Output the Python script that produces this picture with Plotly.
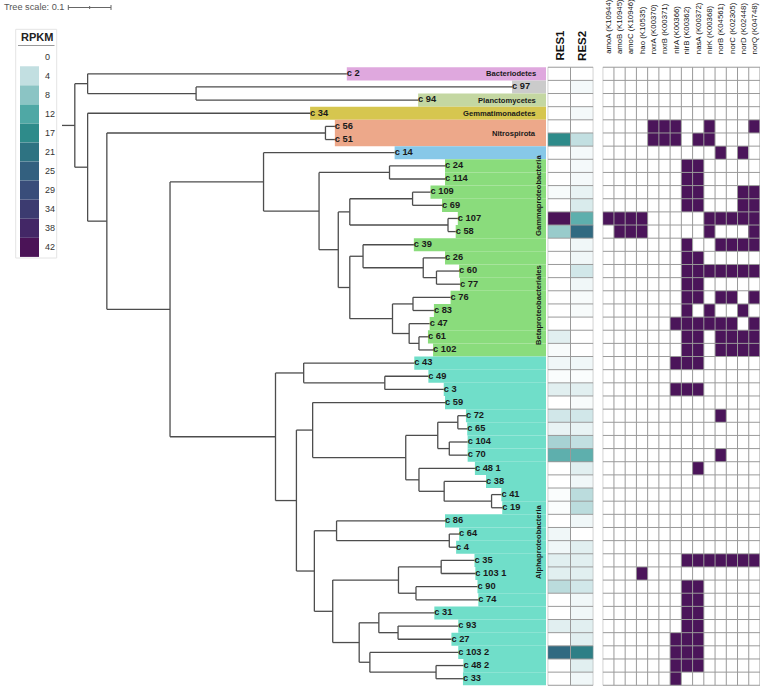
import plotly.graph_objects as go

# ---- data -------------------------------------------------------------
GAMMA_BETA = ("((c 24:0.130,c 114:0.130):0.165,"
              "(((c 109:0.042,c 69:0.069):0.147,(c 107:0.023,c 58:0.018):0.230):0.027,"
              "((c 39:0.119,(c 26:0.051,(c 60:0.053,c 77:0.055):0.031):0.141):0.031,"
              "((c 76:0.088,c 83:0.049):0.048,(c 47:0.048,(c 61:0.021,c 102:0.033):0.023):0.039):0.100"
              "):0.027):0.045)")
ALPHA = ("((c 43:0.259,(c 49:0.102,c 3:0.138):0.190):0.066,"
         "((c 59:0.310,(((c 72:0.019,c 65:0.022):0.047,(c 104:0.043,c 70:0.043):0.027):0.075,"
         "(c 48 1:0.131,(c 38:0.098,(c 41:0.023,c 19:0.025):0.111):0.059):0.031):0.218):0.038,"
         "((c 86:0.254,(c 64:0.023,c 4:0.016):0.264):0.052,"
         "(((c 35:0.078,c 103 1:0.080):0.100,(c 90:0.144,c 74:0.146):0.041):0.154,"
         "((c 31:0.130,(c 93:0.141,c 27:0.125):0.045):0.046,"
         "(c 103 2:0.207,(c 48 2:0.064,c 33:0.063):0.155):0.025):0.062):0.043):0.042):0.049)")
TREE = ("((c 2:0.607,(c 97:0.740,c 94:0.520):0.254):0.030,"
        "(c 34:0.521,((c 56:0.022,c 51:0.022):0.512,"
        "((c 14:0.307," + GAMMA_BETA + ":0.130):0.219," + ALPHA + ":0.247):0.148):0.045):0.030):0.030;")

CLADE_OF = {
    "c 2": "Bacteriodetes", "c 97": "other1", "c 94": "Planctomycetes",
    "c 34": "Gemmatimonadetes", "c 56": "Nitrospirota", "c 51": "Nitrospirota",
    "c 14": "other2",
}
GAMMA_LEAVES = ["c 24", "c 114", "c 109", "c 69", "c 107", "c 58"]
BETA_LEAVES = ["c 39", "c 26", "c 60", "c 77", "c 76", "c 83", "c 47", "c 61", "c 102"]
CLADE_COLORS = {
    "Bacteriodetes": "#dfa8de", "other1": "#cbcbcb", "Planctomycetes": "#c4d7a2",
    "Gemmatimonadetes": "#d6c64f", "Nitrospirota": "#eda88a", "other2": "#87c8e8",
    "Gammaproteobacteria": "#8adc7c", "Betaproteobacteriales": "#8adc7c",
    "Alphaproteobacteria": "#70dec9",
}

RES_NAMES = ["RES1", "RES2"]
RES1 = [0, 0, 0, 0, 0, 17, 0, 0, 0, 0.5, 0, 42, 7, 0, 0, 0, 0, 0, 0, 0, 2, 0.5, 1, 0.3,
        2, 0, 3, 1.5, 6, 11, 0, 0, 0.3, 0.3, 0, 1, 1, 2, 2, 4.5, 0, 0, 2, 0, 23, 0, 0]
RES2 = [0, 0.7, 0, 0.7, 0, 4, 0.7, 0.7, 0.7, 1.5, 2.5, 11, 23, 1, 1, 3, 1, 0.5, 0.5, 0, 0, 0, 1, 0.3,
        2, 0.5, 3, 1.5, 4, 11, 2, 1, 4.5, 4.5, 1, 0, 2, 2, 2, 3, 1, 1, 2, 2, 19, 2, 1]

GENES = ["amoA (K10944)", "amoB (K10945)", "amoC (K10946)", "hao (K10535)",
         "nxrA (K00370)", "nxrB (K00371)", "nirA (K00366)", "nirB (K00362)",
         "nasA (K00372)", "nirK (K00368)", "norB (K04561)", "norC (K02305)",
         "norD (K02448)", "norQ (K04748)"]
GENE_ROWS = [
    "00000000000000", "00000000000000", "00000000000000", "00000000000000",
    "00001110010001", "00001110110000", "00000000001010", "00000001100000",
    "00000001100000", "00000001100011", "00000001100011", "11110000011111",
    "01110000010001", "00000001001111", "00000001100000", "00000001111111",
    "00000001100000", "00000001101101", "00000001010010", "00000011111101",
    "00000001101111", "00000001101111", "00000011100000", "00000000000000",
    "00000011100000", "00000000000000", "00000000001000", "00000000000000",
    "00000000000000", "00000000001000", "00000000100000", "00000000000000",
    "00000000000000", "00000000000000", "00000000000000", "00000000000000",
    "00000000000000", "00000001111111", "00010000000000", "00000001100000",
    "00000001100000", "00000001100000", "00000001100000", "00000011100000",
    "00000011100000", "00000011100000", "00000010000000",
]

LEGEND_VALUES = [0, 4, 8, 12, 17, 21, 25, 29, 34, 38, 42]
LEGEND_COLORS = ["#ffffff", "#c2dfe1", "#8bc4c4", "#4fa8a5", "#2e8b8a", "#2e7382",
                 "#33607f", "#394d7a", "#3c3b70", "#432766", "#4b1357"]

# ---- layout constants (pixels) ----------------------------------------
W, H = 760, 687
ROW0, ROWH = 73.8, 13.15
PX_PER_UNIT, ROOT_PX = 427.0, 62.0
TREE_RIGHT = 546


def row_at(p):
    return (p - ROW0) / ROWH


def px_x(p):
    return p / W


def px_y(p):
    return 1 - p / H


# ---- parse newick -----------------------------------------------------
def parse(s, i=0):
    node = {"children": [], "name": "", "bl": 0.0}
    if s[i] == "(":
        i += 1
        while True:
            child, i = parse(s, i)
            node["children"].append(child)
            if s[i] == ",":
                i += 1
                continue
            i += 1
            break
    j = i
    while s[i] not in ":,();":
        i += 1
    node["name"] = s[j:i].strip()
    if s[i] == ":":
        i += 1
        j = i
        while s[i] not in ",();":
            i += 1
        node["bl"] = float(s[j:i])
    return node, i


root, _ = parse(TREE)
leaves = []


def place(node, depth):
    node["x"] = depth + node["bl"]
    if not node["children"]:
        node["y"] = len(leaves)
        leaves.append(node)
    else:
        for c in node["children"]:
            place(c, node["x"])
        node["y"] = (node["children"][0]["y"] + node["children"][-1]["y"]) / 2


place(root, 0.0)

lx, ly = [0, root["x"], None], [root["y"], root["y"], None]


def edges(node):
    for c in node["children"]:
        lx.extend([node["x"], c["x"], None])
        ly.extend([c["y"], c["y"], None])
        edges(c)
    if node["children"]:
        lx.extend([node["x"], node["x"], None])
        ly.extend([node["children"][0]["y"], node["children"][-1]["y"], None])


edges(root)

x_lo = -ROOT_PX / PX_PER_UNIT
x_hi = (TREE_RIGHT - ROOT_PX) / PX_PER_UNIT

fig = go.Figure()
shapes = []
names = [lf["name"] for lf in leaves]


def clade(name):
    if name in CLADE_OF:
        return CLADE_OF[name]
    if name in GAMMA_LEAVES:
        return "Gammaproteobacteria"
    if name in BETA_LEAVES:
        return "Betaproteobacteriales"
    return "Alphaproteobacteria"


for lf in leaves:
    shapes.append(dict(type="rect", xref="x", yref="y", x0=lf["x"], x1=x_hi,
                       y0=lf["y"] - 0.5, y1=lf["y"] + 0.5, layer="below",
                       fillcolor=CLADE_COLORS[clade(lf["name"])], line=dict(width=0)))

fig.add_trace(go.Scatter(x=lx, y=ly, mode="lines", line=dict(color="#4d4d4d", width=1.3),
                         hoverinfo="skip", showlegend=False))
fig.add_trace(go.Scatter(x=[lf["x"] for lf in leaves], y=[lf["y"] for lf in leaves],
                         mode="text", text=["<b>%s</b>" % n for n in names],
                         textposition="middle right",
                         textfont=dict(family="Arial", size=9.3, color="#1a1a1a"),
                         hoverinfo="skip", showlegend=False))

# RES heatmap
scale = [[v / 42, c] for v, c in zip(LEGEND_VALUES, LEGEND_COLORS)]
rows = list(range(len(leaves)))
fig.add_trace(go.Heatmap(z=[[a, b] for a, b in zip(RES1, RES2)], x=[0, 1], y=rows,
                         colorscale=scale, zmin=0, zmax=42, showscale=False,
                         xaxis="x2", yaxis="y", hoverinfo="skip"))
# gene heatmap
gz = [[int(ch) for ch in r] for r in GENE_ROWS]
fig.add_trace(go.Heatmap(z=gz, x=list(range(len(GENES))), y=rows,
                         colorscale=[[0, "#ffffff"], [1, "#4b155a"]], zmin=0, zmax=1,
                         showscale=False, xaxis="x3", yaxis="y", hoverinfo="skip"))

# grid lines
for ax, ncol in (("x2", 2), ("x3", len(GENES))):
    gx, gy = [], []
    for k in range(ncol + 1):
        gx.extend([k - 0.5, k - 0.5, None])
        gy.extend([-0.5, len(leaves) - 0.5, None])
    for r in range(len(leaves) + 1):
        gx.extend([-0.5, ncol - 0.5, None])
        gy.extend([r - 0.5, r - 0.5, None])
    fig.add_trace(go.Scatter(x=gx, y=gy, mode="lines", line=dict(color="#9a9a9a", width=1),
                             xaxis=ax, yaxis="y", hoverinfo="skip", showlegend=False))

ann = []
# clade labels
row_of = {n: i for i, n in enumerate(names)}
lab_x = (538 - ROOT_PX) / PX_PER_UNIT
for text, yy in (("Bacteriodetes", row_of["c 2"]), ("Planctomycetes", row_of["c 94"]),
                 ("Gemmatimonadetes", row_of["c 34"]),
                 ("Nitrospirota", (row_of["c 56"] + row_of["c 51"]) / 2 + 0.05)):
    ann.append(dict(x=lab_x, y=yy, xref="x", yref="y", text="<b>%s</b>" % text,
                    showarrow=False, xanchor="right", yanchor="middle",
                    font=dict(family="Arial", size=7.6, color="#1a1a1a")))
for text, py in (("Gammaproteobacteria", 196), ("Betaproteobacteriales", 305),
                 ("Alphaproteobacteria", 542)):
    ann.append(dict(x=lab_x, y=row_at(py), xref="x", yref="y", text="<b>%s</b>" % text,
                    showarrow=False, textangle=-90, xanchor="center", yanchor="middle",
                    font=dict(family="Arial", size=7.6, color="#1a1a1a")))

# column headers
for k, n in enumerate(RES_NAMES):
    ann.append(dict(x=k, y=row_at(63), xref="x2", yref="y", text="<b>%s</b>" % n,
                    showarrow=False, textangle=-90, xanchor="center", yanchor="bottom",
                    font=dict(family="Arial", size=11.5, color="#111")))
for k, n in enumerate(GENES):
    ann.append(dict(x=k, y=row_at(56), xref="x3", yref="y", text=n,
                    showarrow=False, textangle=-90, xanchor="center", yanchor="bottom",
                    font=dict(family="Arial", size=7.8, color="#111")))

# tree scale
s0 = (68.3 - ROOT_PX) / PX_PER_UNIT
ys = row_at(7.5)
th = 2.5 / ROWH
for x0, x1, y0, y1 in ((s0, s0 + 0.1, ys, ys), (s0, s0, ys - th, ys + th),
                       (s0 + 0.1, s0 + 0.1, ys - th, ys + th),
                       (s0 + 0.05, s0 + 0.05, ys - th * 0.6, ys + th * 0.6)):
    shapes.append(dict(type="line", xref="x", yref="y", x0=x0, x1=x1, y0=y0, y1=y1,
                       line=dict(color="#666", width=1)))
ann.append(dict(x=px_x(2), y=px_y(7.5), xref="paper", yref="paper", text="Tree scale: 0.1",
                showarrow=False, xanchor="left", yanchor="middle",
                font=dict(family="Arial", size=9.2, color="#555")))

# RPKM legend
shapes.append(dict(type="rect", xref="paper", yref="paper", x0=px_x(15.7), x1=px_x(56.7),
                   y0=px_y(258), y1=px_y(29.3), line=dict(color="#e4e4e4", width=1)))
shapes.append(dict(type="line", xref="paper", yref="paper", x0=px_x(18), x1=px_x(54.5),
                   y0=px_y(45.5), y1=px_y(45.5), line=dict(color="#999", width=1)))
ann.append(dict(x=px_x(36.5), y=px_y(37.5), xref="paper", yref="paper", text="<b>RPKM</b>",
                showarrow=False, xanchor="center", yanchor="middle",
                font=dict(family="Arial", size=11, color="#222")))
for i, (v, c) in enumerate(zip(LEGEND_VALUES, LEGEND_COLORS)):
    cy = 56.7 + 19.07 * i
    shapes.append(dict(type="rect", xref="paper", yref="paper", x0=px_x(20), x1=px_x(39),
                       y0=px_y(cy + 9.5), y1=px_y(cy - 9.5), fillcolor=c, line=dict(width=0)))
    ann.append(dict(x=px_x(42.5), y=px_y(cy), xref="paper", yref="paper", text=str(v),
                    showarrow=False, xanchor="left", yanchor="middle",
                    font=dict(family="Arial", size=9, color="#333")))

hidden = dict(visible=False, showgrid=False, zeroline=False, fixedrange=True)
fig.update_layout(
    width=W, height=H,
    margin=dict(l=0, r=0, t=0, b=0),
    paper_bgcolor="white", plot_bgcolor="white",
    showlegend=False,
    xaxis=dict(domain=[0, px_x(TREE_RIGHT)], range=[x_lo, x_hi], **hidden),
    xaxis2=dict(domain=[px_x(547.7), px_x(593.3)], range=[-0.5, 1.5], anchor="y", **hidden),
    xaxis3=dict(domain=[px_x(602.7), 1.0], range=[-0.5, len(GENES) - 0.5], anchor="y", **hidden),
    yaxis=dict(domain=[0, 1], range=[row_at(H), row_at(0)], **hidden),
    shapes=shapes,
    annotations=ann,
)

fig.write_html("out.html", config={"displayModeBar": False},
               post_script="document.body.style.margin='0';document.body.style.overflow='hidden';")
